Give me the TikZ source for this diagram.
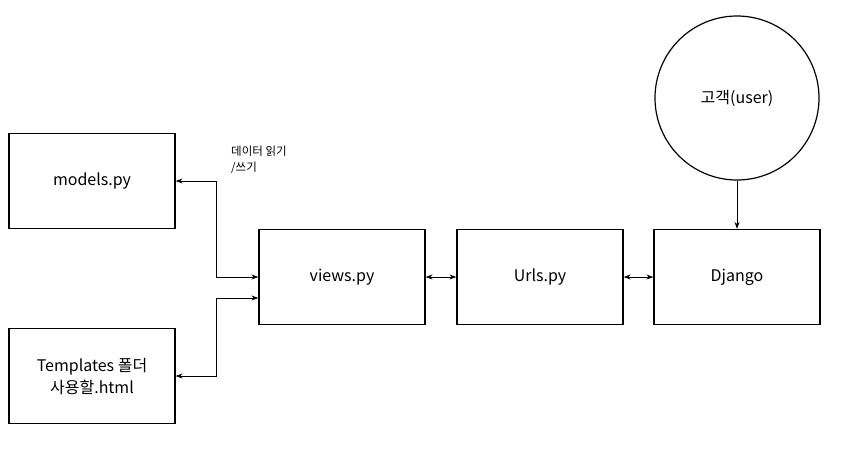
\documentclass[tikz,border=0pt]{standalone}
\usepackage{fontspec}
\setmainfont{Noto Sans CJK KR}
\usepackage{tikz}
\usetikzlibrary{arrows.meta}

\tikzset{
  filebox/.style={rectangle, draw=black, line width=1.2pt, minimum width=166pt, minimum height=95pt, inner sep=2pt, align=center, font=\fontsize{16}{22}\selectfont},
  link/.style={line width=1pt, {Stealth[length=7pt,width=5pt]}-{Stealth[length=7pt,width=5pt]}},
  oneway/.style={line width=1pt, -{Stealth[length=7pt,width=5pt]}}
}

\begin{document}
\begin{tikzpicture}[x=1pt, y=-1pt]
\useasboundingbox (0,0) rectangle (862,459);
\fill[white] (0,0) rectangle (862,459);

\node[filebox] (models) at (92,181) {models.py};
\node[filebox] (templates) at (92,376) {Templates 폴더\\사용할.html};
\node[filebox] (views) at (342,277) {views.py};
\node[filebox] (urls) at (540,277) {Urls.py};
\node[filebox] (django) at (737,277) {Django};
\node[circle, draw=black, line width=1.2pt, minimum size=164pt, inner sep=0pt, font=\fontsize{16}{22}\selectfont] (user) at (737,98) {고객(user)};

\node[anchor=north west, align=left, inner sep=0pt, font=\fontsize{11.5}{16}\selectfont] (rw) at (231,146) {데이터 읽기\\/쓰기};

% views <-> models, templates
\coordinate (bend) at (216,0);
\draw[link] (models.east) -- (models.east -| bend) |- (views.west);
\draw[link] (templates.east) -- (templates.east -| bend) |- ([yshift=-21pt]views.west);
% request flow
\draw[link] (views.east) -- (urls.west);
\draw[link] (urls.east) -- (django.west);
\draw[oneway] (user.south) -- (django.north);
\end{tikzpicture}
\end{document}
